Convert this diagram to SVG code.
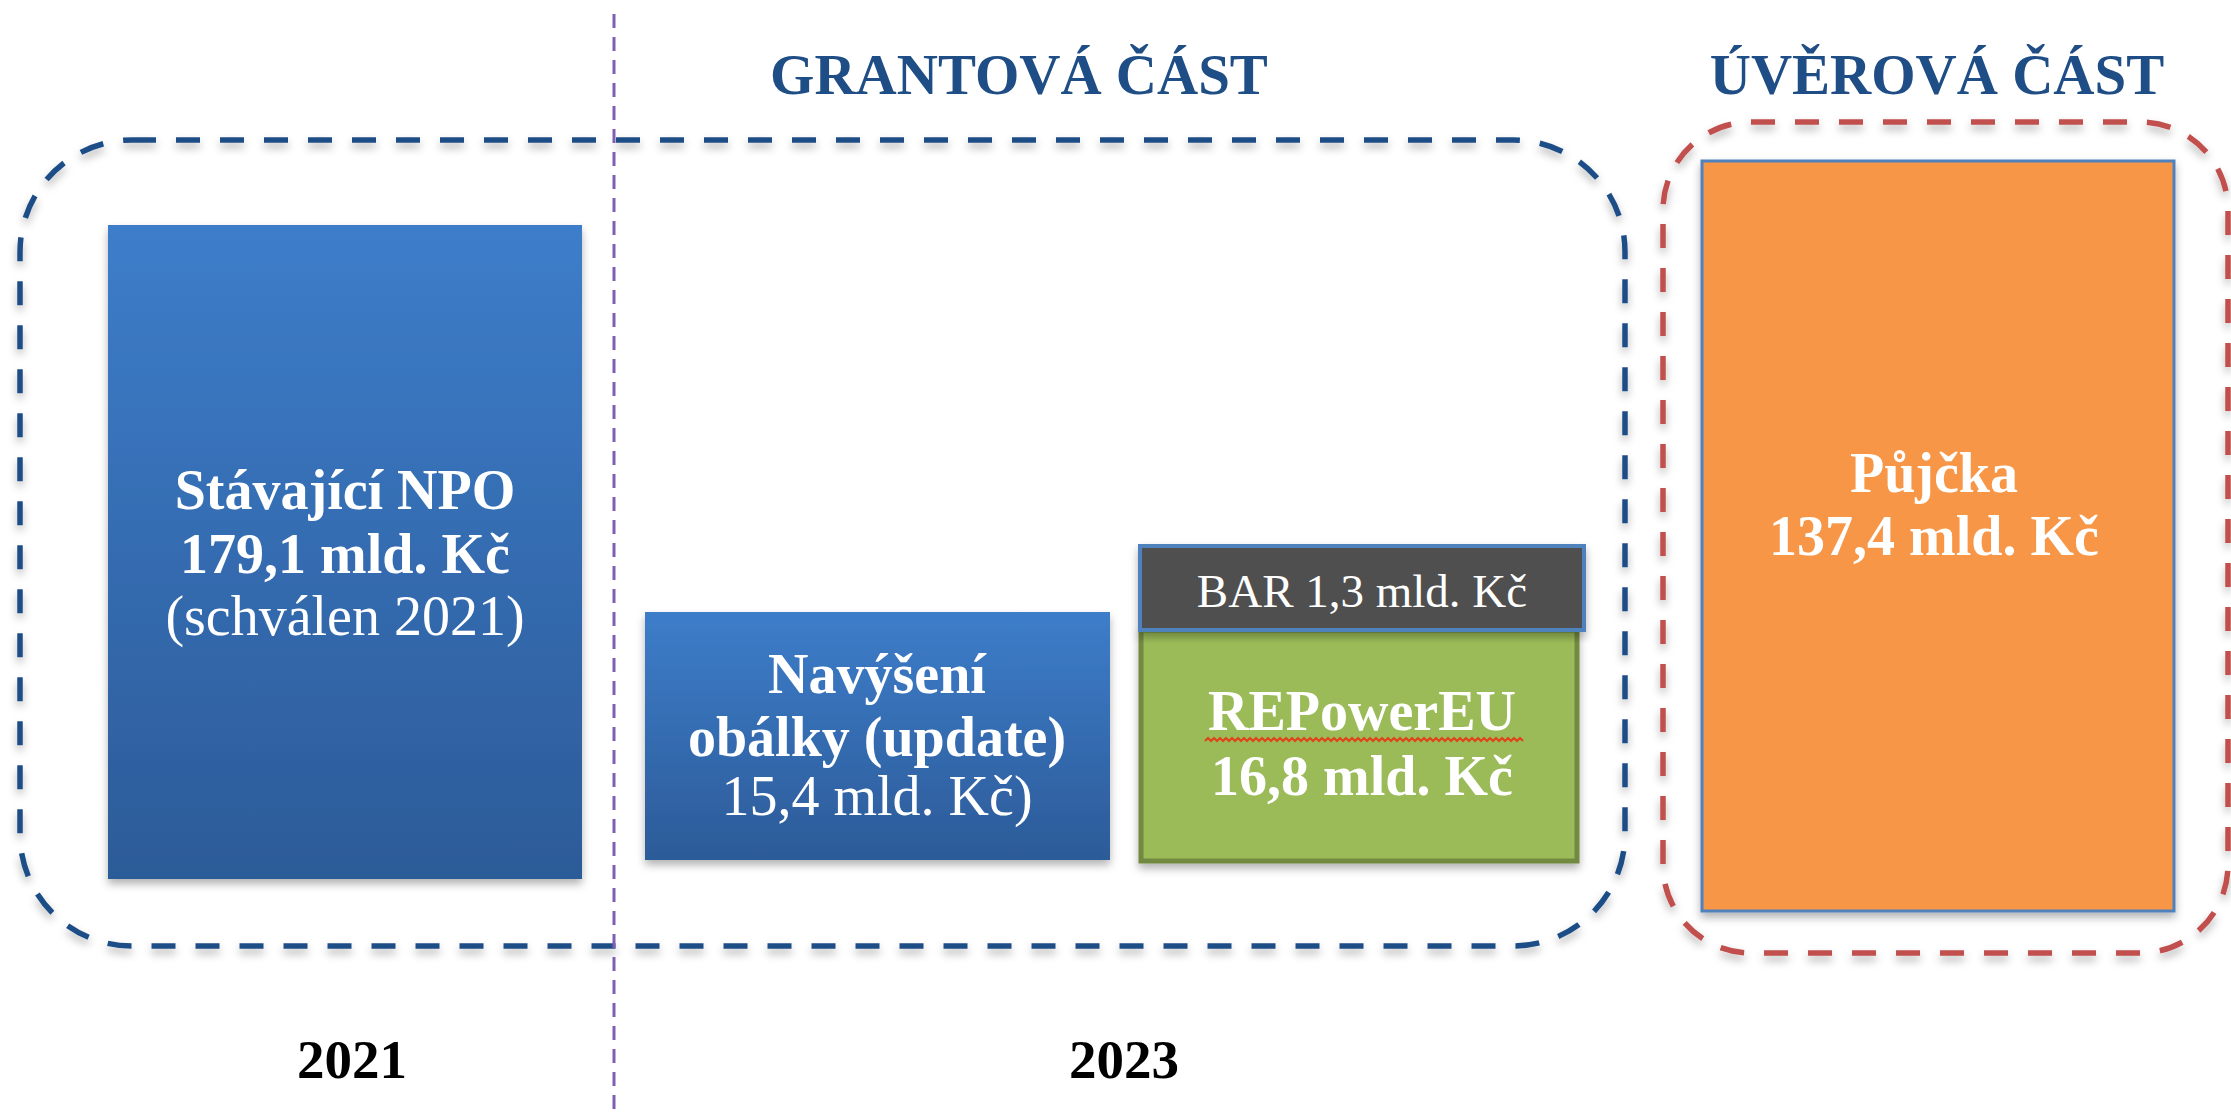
<svg xmlns="http://www.w3.org/2000/svg" width="2231" height="1114" viewBox="0 0 2231 1114">
<style>
  .t { font-family: "Liberation Serif", "Times New Roman", serif; text-anchor: middle; }
  .b { font-weight: bold; }
  .w { fill: #ffffff; }
  .title { fill: #1f4e86; font-weight: bold; font-size: 57px; }
  .lbl { font-size: 56px; }
  .year { fill: #000000; font-weight: bold; font-size: 55px; }
</style>
<defs>
  <linearGradient id="gBlue" x1="0" y1="0" x2="0" y2="1">
    <stop offset="0" stop-color="#3d7dca"/>
    <stop offset="1" stop-color="#2c5b98"/>
  </linearGradient>
  <filter id="sh" x="-10%" y="-10%" width="120%" height="125%">
    <feDropShadow dx="0" dy="5" stdDeviation="4" flood-color="#000" flood-opacity="0.3"/>
  </filter>
</defs>

<g id="frames">
  <rect id="grant-frame" x="20" y="140" width="1605" height="806" rx="112" ry="112" fill="none" stroke="#1f4e86" stroke-width="5.5" stroke-dasharray="24 20" filter="url(#sh)"/>
  <rect id="loan-frame" x="1663" y="122" width="565" height="831" rx="88" ry="88" fill="none" stroke="#c0504d" stroke-width="5.5" stroke-dasharray="24 20" filter="url(#sh)"/>
</g>

<g id="connectors">
  <line x1="614" y1="14" x2="614" y2="1114" stroke="#7f5fb3" stroke-width="3" stroke-dasharray="14 9"/>
</g>

<g id="title-grant"><text class="t title" x="1019" y="94">GRANTOVÁ ČÁST</text></g>
<g id="title-loan"><text class="t title" x="1937" y="94">ÚVĚROVÁ ČÁST</text></g>

<g id="node-npo">
  <rect x="108" y="225" width="474" height="654" fill="url(#gBlue)" filter="url(#sh)"/>
  <text class="t lbl b w" x="345" y="509">Stávající NPO</text>
  <text class="t lbl b w" x="345" y="573">179,1 mld. Kč</text>
  <text class="t lbl w" x="345" y="635">(schválen 2021)</text>
</g>

<g id="node-navyseni">
  <rect x="645" y="612" width="465" height="248" fill="url(#gBlue)" filter="url(#sh)"/>
  <text class="t lbl b w" x="877" y="693">Navýšení</text>
  <text class="t lbl b w" x="877" y="756">obálky (update)</text>
  <text class="t lbl w" x="877" y="815">15,4 mld. Kč)</text>
</g>

<g id="node-repower">
  <rect x="1141" y="630" width="436" height="231" fill="#9bbb59" stroke="#71893f" stroke-width="5" filter="url(#sh)"/>
  <text class="t lbl b w" x="1362" y="730">REPowerEU</text>
  <path d="M1205 741 l3 -3 l3 3 l3 -3 l3 3 l3 -3 l3 3 l3 -3 l3 3 l3 -3 l3 3 l3 -3 l3 3 l3 -3 l3 3 l3 -3 l3 3 l3 -3 l3 3 l3 -3 l3 3 l3 -3 l3 3 l3 -3 l3 3 l3 -3 l3 3 l3 -3 l3 3 l3 -3 l3 3 l3 -3 l3 3 l3 -3 l3 3 l3 -3 l3 3 l3 -3 l3 3 l3 -3 l3 3 l3 -3 l3 3 l3 -3 l3 3 l3 -3 l3 3 l3 -3 l3 3 l3 -3 l3 3 l3 -3 l3 3 l3 -3 l3 3 l3 -3 l3 3 l3 -3 l3 3 l3 -3 l3 3 l3 -3 l3 3 l3 -3 l3 3 l3 -3 l3 3 l3 -3 l3 3 l3 -3 l3 3 l3 -3 l3 3 l3 -3 l3 3 l3 -3 l3 3 l3 -3 l3 3 l3 -3 l3 3 l3 -3 l3 3 l3 -3 l3 3 l3 -3 l3 3 l3 -3 l3 3 l3 -3 l3 3 l3 -3 l3 3 l3 -3 l3 3 l3 -3 l3 3 l3 -3 l3 3 l3 -3 l3 3 l3 -3 l3 3 l3 -3 l3 3 l3 -3 l3 3" fill="none" stroke="#e0441b" stroke-width="2"/>
  <text class="t lbl b w" x="1362" y="795">16,8 mld. Kč</text>
</g>

<g id="node-bar">
  <rect x="1140" y="546" width="444" height="84" fill="#4f4f4f" stroke="#4f81bd" stroke-width="4" filter="url(#sh)"/>
  <text class="t w" x="1362" y="607" font-size="47">BAR 1,3 mld. Kč</text>
</g>

<g id="node-pujcka">
  <rect x="1702" y="161" width="472" height="750" fill="#f79646" stroke="#4f81bd" stroke-width="3" filter="url(#sh)"/>
  <text class="t lbl b w" x="1934" y="492">Půjčka</text>
  <text class="t lbl b w" x="1934" y="555">137,4 mld. Kč</text>
</g>

<g id="year-2021"><text class="t year" x="352" y="1078">2021</text></g>
<g id="year-2023"><text class="t year" x="1124" y="1078">2023</text></g>
</svg>
